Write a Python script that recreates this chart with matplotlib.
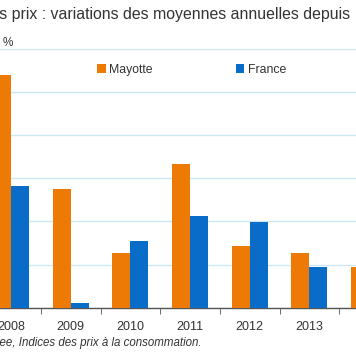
import matplotlib
matplotlib.use("Agg")
import matplotlib.pyplot as plt
import numpy as np

plt.rcParams['font.family'] = ['Liberation Sans', 'DejaVu Sans']

years = ["2008", "2009", "2010", "2011", "2012", "2013", "2014"]
mayotte = [5.4, 2.75, 1.28, 3.33, 1.43, 1.28, 0.94]
france = [2.83, 0.12, 1.55, 2.13, 1.98, 0.94, 0.5]
series_names = ["Mayotte", "France"]
title_text = "Évolution des prix : variations des moyennes annuelles depuis"
unit_text = "%"
source_text = "Source : Insee, Indices des prix à la consommation."

c_may = "#EE7A06"
c_fr = "#0A6CC9"
grid_c = "#CDE7F2"
txt_c = "#333333"

W, H = 356, 364
fig = plt.figure(figsize=(W / 100, H / 100), dpi=100)

# axes in pixel coords (may extend beyond the visible figure)
px_per_cat = 59.67
x0_px = 11.0
left_px = x0_px - 0.5 * px_per_cat
width_px = 7 * px_per_cat
y0_px = 307.7
ytop_px = 49.0
ax = fig.add_axes([left_px / W, (H - y0_px) / H, width_px / W, (y0_px - ytop_px) / H])

x = np.arange(len(years))
bw = 0.3
ax.bar(x - bw / 2, mayotte, bw, color=c_may, label=series_names[0], zorder=3)
ax.bar(x + bw / 2, france, bw, color=c_fr, label=series_names[1], zorder=3)

ax.set_xlim(-0.5, len(years) - 0.5)
ax.set_ylim(0, 6)
ax.set_yticks(np.arange(0, 7, 1))
ax.yaxis.grid(True, color=grid_c, linewidth=1.0, zorder=0)
ax.tick_params(axis='y', left=False, labelleft=False)
ax.set_xticks(x)
ax.set_xticklabels(years)
ax.set_xticks(np.arange(-0.5, len(years), 1), minor=True)
ax.tick_params(axis='x', which='major', length=0, pad=9.5, labelsize=9, labelcolor=txt_c)
ax.tick_params(axis='x', which='minor', length=4, color="#555555", direction='out')
for s in ['top', 'left', 'right']:
    ax.spines[s].set_visible(False)
ax.spines['bottom'].set_color("#555555")
ax.spines['bottom'].set_linewidth(1.0)
ax.set_facecolor('none')

leg = fig.legend(loc='center left', bbox_to_anchor=(97 / W, 1 - 70 / H),
                 ncol=2, frameon=False, fontsize=8.8, handlelength=0.7,
                 handleheight=0.7, handletextpad=0.3, columnspacing=6.8,
                 borderaxespad=0, borderpad=0)
for t in leg.get_texts():
    t.set_color(txt_c)

fig.text(350 / W, 1 - 13.5 / H, title_text, ha='right', va='center',
         fontsize=11.4, color=txt_c)
fig.text(3 / W, 1 - 42.5 / H, unit_text, ha='left', va='center',
         fontsize=8.5, color=txt_c)
fig.text(202 / W, 1 - 343 / H, source_text, ha='right', va='center',
         fontsize=8.3, style='italic', color=txt_c)

fig.savefig("out.png", dpi=100)
